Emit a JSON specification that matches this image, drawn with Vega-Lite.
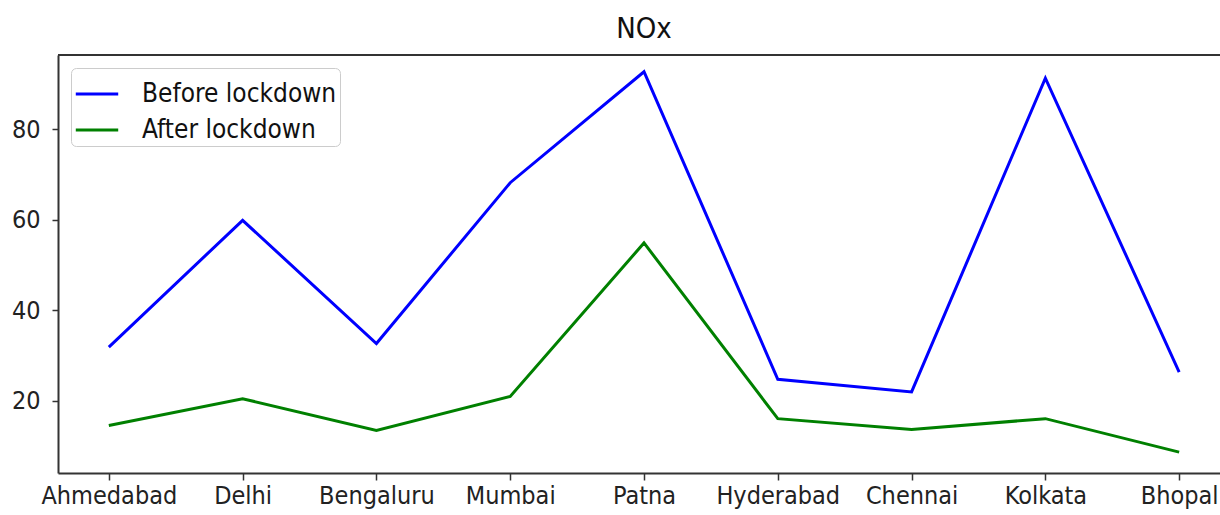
{
  "$schema": "https://vega.github.io/schema/vega-lite/v6.json",
  "autosize": "none",
  "width": 1172,
  "height": 418,
  "padding": {"left": 58, "top": 55, "right": -10, "bottom": 42},
  "background": "white",
  "title": {"text": "NOx", "fontSize": 29, "fontWeight": "normal", "font": "DejaVu Sans Condensed", "color": "#111", "offset": 10, "anchor": "middle"},
  "config": {
    "view": {"stroke": null},
    "axis": {"grid": false, "domainColor": "#333", "domainWidth": 2, "tickColor": "#333", "tickWidth": 1.5, "labelFont": "DejaVu Sans Condensed", "labelFontSize": 25, "labelColor": "#222", "title": null},
    "legend": {"labelFont": "DejaVu Sans Condensed", "labelFontSize": 26, "labelColor": "#111", "labelLimit": 400}
  },
  "data": {"values": [
    {"city": "Ahmedabad", "period": "Before lockdown", "nox": 31.9},
    {"city": "Delhi", "period": "Before lockdown", "nox": 59.9},
    {"city": "Bengaluru", "period": "Before lockdown", "nox": 32.7},
    {"city": "Mumbai", "period": "Before lockdown", "nox": 68.2},
    {"city": "Patna", "period": "Before lockdown", "nox": 92.7},
    {"city": "Hyderabad", "period": "Before lockdown", "nox": 24.8},
    {"city": "Chennai", "period": "Before lockdown", "nox": 22.0},
    {"city": "Kolkata", "period": "Before lockdown", "nox": 91.3},
    {"city": "Bhopal", "period": "Before lockdown", "nox": 26.4},
    {"city": "Ahmedabad", "period": "After lockdown", "nox": 14.6},
    {"city": "Delhi", "period": "After lockdown", "nox": 20.5},
    {"city": "Bengaluru", "period": "After lockdown", "nox": 13.5},
    {"city": "Mumbai", "period": "After lockdown", "nox": 21.0},
    {"city": "Patna", "period": "After lockdown", "nox": 54.9},
    {"city": "Hyderabad", "period": "After lockdown", "nox": 16.1},
    {"city": "Chennai", "period": "After lockdown", "nox": 13.7},
    {"city": "Kolkata", "period": "After lockdown", "nox": 16.1},
    {"city": "Bhopal", "period": "After lockdown", "nox": 8.7}
  ]},
  "layer": [
    {
      "mark": {"type": "line", "strokeWidth": 3},
      "encoding": {
        "x": {"field": "city", "type": "nominal", "sort": null,
              "scale": {"type": "point", "padding": 0.38},
              "axis": {"labelAngle": 0, "tickSize": 7, "labelPadding": 3}},
        "y": {"field": "nox", "type": "quantitative",
              "scale": {"domain": [4.1, 96.4], "nice": false, "zero": false},
              "axis": {"values": [20, 40, 60, 80], "tickSize": 6, "labelPadding": 12}},
        "color": {"field": "period", "type": "nominal",
                  "scale": {"domain": ["Before lockdown", "After lockdown"], "range": ["#0000ff", "#008000"]},
                  "legend": {"title": null, "orient": "top-left", "offset": 13, "symbolType": "stroke", "symbolSize": 1800, "symbolStrokeWidth": 3, "labelOffset": 22, "rowPadding": 0, "padding": 3, "fillColor": "white", "strokeColor": "#cccccc", "cornerRadius": 5}}
      }
    },
    {
      "mark": {"type": "rule", "color": "#333", "strokeWidth": 2},
      "encoding": {"y": {"datum": 96.4}}
    }
  ]
}
